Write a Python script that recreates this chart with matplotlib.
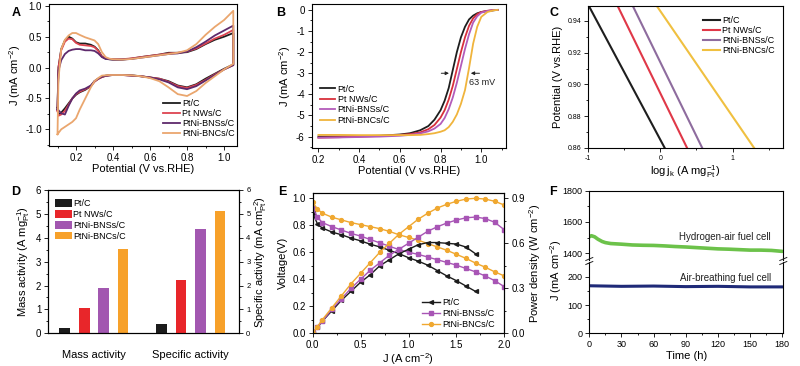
import matplotlib
matplotlib.use("Agg")
import matplotlib.pyplot as plt
from matplotlib.ticker import MultipleLocator
from matplotlib.lines import Line2D

plt.rcParams['font.family'] = ['Liberation Sans', 'DejaVu Sans']
plt.rcParams['mathtext.default'] = 'regular'
plt.rcParams['axes.linewidth'] = 0.8
plt.rcParams['axes.unicode_minus'] = False

# ---------------- DATA ----------------
names4 = ['Pt/C', 'Pt NWs/C', 'PtNi-BNSs/C', 'PtNi-BNCs/C']

# Panel A: CV (anodic sweep up, cathodic sweep down)
cv_E_up = [0.100, 0.105, 0.12, 0.14, 0.16, 0.18, 0.20, 0.22, 0.25, 0.28, 0.30, 0.32, 0.34, 0.36, 0.38,
           0.40, 0.45, 0.50, 0.55, 0.60, 0.65, 0.70, 0.75, 0.80, 0.85, 0.90, 0.95, 1.00, 1.05]
cv_E_dn = cv_E_up[::-1]
cv_pt_up = [-0.65, 0.0, 0.30, 0.44, 0.50, 0.47, 0.41, 0.39, 0.39, 0.37, 0.34, 0.28, 0.18, 0.145, 0.135,
            0.13, 0.13, 0.145, 0.17, 0.19, 0.21, 0.24, 0.24, 0.25, 0.30, 0.38, 0.45, 0.50, 0.56]
cv_pt_dn = [0.05, -0.02, -0.10, -0.18, -0.27, -0.32, -0.29, -0.22, -0.18, -0.16, -0.14, -0.125, -0.12, -0.12,
            -0.125, -0.13, -0.15, -0.18, -0.22, -0.30, -0.36, -0.40, -0.44, -0.50, -0.58, -0.66, -0.73, -0.76, -0.65]
cv_nw_up = [-0.70, 0.0, 0.28, 0.42, 0.47, 0.46, 0.40, 0.37, 0.36, 0.35, 0.33, 0.27, 0.18, 0.15, 0.14,
            0.135, 0.135, 0.15, 0.17, 0.19, 0.21, 0.23, 0.24, 0.26, 0.31, 0.39, 0.47, 0.53, 0.61]
cv_nw_dn = [0.04, -0.03, -0.11, -0.20, -0.28, -0.33, -0.30, -0.23, -0.18, -0.16, -0.14, -0.13, -0.12, -0.12,
            -0.125, -0.135, -0.155, -0.185, -0.23, -0.30, -0.35, -0.39, -0.43, -0.50, -0.60, -0.70, -0.76, -0.78, -0.70]
cv_ns_up = [-0.68, -0.05, 0.12, 0.22, 0.27, 0.29, 0.30, 0.30, 0.28, 0.28, 0.27, 0.23, 0.17, 0.14, 0.135,
            0.13, 0.13, 0.14, 0.16, 0.18, 0.20, 0.22, 0.23, 0.26, 0.33, 0.42, 0.52, 0.60, 0.68]
cv_ns_dn = [0.04, -0.03, -0.12, -0.21, -0.30, -0.35, -0.32, -0.24, -0.19, -0.16, -0.14, -0.13, -0.12, -0.12,
            -0.125, -0.135, -0.15, -0.18, -0.22, -0.29, -0.34, -0.37, -0.42, -0.50, -0.62, -0.76, -0.74, -0.69, -0.68]
cv_nc_up = [-1.08, -0.20, 0.30, 0.45, 0.52, 0.56, 0.56, 0.53, 0.49, 0.46, 0.44, 0.38, 0.25, 0.17, 0.145,
            0.135, 0.13, 0.14, 0.16, 0.18, 0.20, 0.22, 0.24, 0.28, 0.38, 0.53, 0.66, 0.77, 0.92]
cv_nc_dn = [0.06, -0.03, -0.14, -0.25, -0.38, -0.46, -0.43, -0.32, -0.22, -0.17, -0.14, -0.125, -0.12, -0.12,
            -0.12, -0.125, -0.13, -0.17, -0.22, -0.32, -0.50, -0.68, -0.82, -0.88, -0.92, -0.96, -1.00, -1.06, -1.08]

# Panel B: ORR polarisation curves
lsv_E = [0.20, 0.30, 0.40, 0.50, 0.55, 0.60, 0.65, 0.70, 0.74, 0.77, 0.80, 0.82, 0.84, 0.86,
         0.88, 0.90, 0.92, 0.94, 0.96, 0.98, 1.00, 1.03, 1.06, 1.08]
lsv_pt = [-6.0, -6.0, -5.98, -5.96, -5.93, -5.9, -5.84, -5.7, -5.5, -5.2, -4.75, -4.3, -3.7, -2.85,
          -2.0, -1.3, -0.8, -0.45, -0.27, -0.16, -0.1, -0.05, -0.02, 0.0]
lsv_nw = [-6.05, -6.03, -6.0, -5.97, -5.95, -5.92, -5.88, -5.8, -5.65, -5.45, -5.1, -4.75, -4.25, -3.6,
          -2.8, -2.0, -1.3, -0.75, -0.4, -0.2, -0.1, -0.04, -0.01, 0.0]
lsv_ns = [-6.05, -6.04, -6.02, -6.0, -5.98, -5.96, -5.92, -5.85, -5.75, -5.62, -5.4, -5.12, -4.7, -4.15,
          -3.45, -2.65, -1.85, -1.15, -0.6, -0.3, -0.13, -0.05, -0.01, 0.0]
lsv_nc = [-5.92, -5.92, -5.93, -5.93, -5.93, -5.93, -5.93, -5.92, -5.88, -5.84, -5.77, -5.7, -5.55, -5.3,
          -4.95, -4.45, -3.8, -2.75, -1.6, -0.8, -0.33, -0.1, -0.02, 0.0]

# Panel C: Tafel-type lines (log jk at 0.95 V and 0.86 V)
tafel_V = [0.95, 0.86]
tafel_pt = [-1.0, 0.06]
tafel_nw = [-0.60, 0.37]
tafel_ns = [-0.39, 0.58]
tafel_nc = [-0.06, 1.30]

# Panel D: activities
groups = ['Mass activity', 'Specific activity']
mass_act = [0.24, 1.04, 1.91, 3.54]
spec_act = [0.39, 2.23, 4.35, 5.14]

# Panel E: fuel cell polarisation / power
fc_J_pt = [0, 0.05, 0.1, 0.2, 0.3, 0.4, 0.5, 0.6, 0.7, 0.8, 0.9, 1.0, 1.1, 1.2, 1.3, 1.4, 1.5, 1.6, 1.7]
fc_V_pt = [0.89, 0.81, 0.78, 0.75, 0.73, 0.705, 0.685, 0.66, 0.64, 0.615, 0.59, 0.56, 0.535, 0.505,
           0.465, 0.425, 0.39, 0.35, 0.31]
fc_P_pt = [0, 0.04, 0.08, 0.15, 0.22, 0.28, 0.34, 0.39, 0.45, 0.49, 0.53, 0.56, 0.59, 0.605,
           0.605, 0.60, 0.595, 0.575, 0.53]
fc_J_ni = [0, 0.05, 0.1, 0.2, 0.3, 0.4, 0.5, 0.6, 0.7, 0.8, 0.9, 1.0, 1.1, 1.2, 1.3, 1.4, 1.5, 1.6,
           1.7, 1.8, 1.9, 2.0]
fc_V_ns = [0.93, 0.86, 0.82, 0.79, 0.765, 0.74, 0.72, 0.695, 0.67, 0.645, 0.62, 0.60, 0.585, 0.565,
           0.545, 0.525, 0.505, 0.48, 0.455, 0.425, 0.39, 0.345]
fc_P_ns = [0, 0.045, 0.08, 0.16, 0.23, 0.30, 0.36, 0.42, 0.47, 0.52, 0.56, 0.60, 0.64, 0.68,
           0.71, 0.735, 0.755, 0.77, 0.775, 0.765, 0.74, 0.69]
fc_V_nc = [0.97, 0.92, 0.89, 0.86, 0.84, 0.82, 0.805, 0.79, 0.775, 0.755, 0.73, 0.71, 0.69, 0.665,
           0.64, 0.615, 0.585, 0.555, 0.52, 0.49, 0.455, 0.425]
fc_P_nc = [0, 0.045, 0.09, 0.17, 0.25, 0.33, 0.40, 0.47, 0.54, 0.60, 0.66, 0.71, 0.76, 0.80,
           0.835, 0.86, 0.88, 0.895, 0.90, 0.895, 0.88, 0.855]
fc_names = ['Pt/C', 'PtNi-BNSs/C', 'PtNi-BNCs/C']

# Panel F: stability
h2_t = [0, 2, 5, 8, 12, 15, 20, 30, 40, 50, 60, 70, 80, 90, 100, 110, 120, 130, 140, 150, 160, 170, 180]
h2_J = [1505, 1512, 1505, 1490, 1475, 1468, 1462, 1458, 1453, 1451, 1450, 1447, 1443, 1440, 1436,
        1432, 1428, 1426, 1423, 1420, 1420, 1418, 1412]
air_t = [0, 30, 60, 90, 120, 150, 180]
air_J = [168, 166, 167, 165, 166, 164, 164]

# ---------------- STYLE ----------------
W, H = 800, 366
fig = plt.figure(figsize=(W / 100, H / 100), dpi=100)


def px_axes(l, t, r, b):
    return fig.add_axes([l / W, 1 - b / H, (r - l) / W, (b - t) / H])


def style(ax, size=7):
    ax.tick_params(which='both', direction='out', width=0.6, labelsize=size, pad=2)
    ax.tick_params(which='major', length=3)
    ax.tick_params(which='minor', length=1.6)


FS_LAB = 8
FS_LEG = 6.5

# ---------------- A ----------------
axA = px_axes(49, 4, 237, 146)
colA = ['#1e1e1e', '#dd4450', '#5e2a6c', '#eaa66e']
cvs = [(cv_pt_up, cv_pt_dn), (cv_nw_up, cv_nw_dn), (cv_ns_up, cv_ns_dn), (cv_nc_up, cv_nc_dn)]
for (up, dn), c, n in zip(cvs, colA, names4):
    axA.plot(cv_E_up + cv_E_dn, up + dn, color=c, lw=1.3, label=n)
axA.set_xlim(0.054, 1.07)
axA.set_ylim(-1.27, 1.03)
axA.xaxis.set_major_locator(MultipleLocator(0.2))
axA.xaxis.set_minor_locator(MultipleLocator(0.1))
axA.yaxis.set_major_locator(MultipleLocator(0.5))
axA.yaxis.set_minor_locator(MultipleLocator(0.25))
axA.yaxis.set_major_formatter(matplotlib.ticker.FormatStrFormatter('%.1f'))
style(axA)
axA.set_xlabel('Potential (V vs.RHE)', fontsize=FS_LAB, labelpad=1)
axA.set_ylabel('J (mA cm$^{-2}$)', fontsize=FS_LAB, labelpad=2)
axA.legend(loc='upper left', bbox_to_anchor=(0.605, 0.33), frameon=False, fontsize=FS_LEG,
           borderpad=0, borderaxespad=0, handlelength=1.9, handletextpad=0.25, labelspacing=0.1)

# ---------------- B ----------------
axB = px_axes(311.7, 4, 505.7, 148)
colB = ['#1e1e1e', '#d8303c', '#b35cba', '#f0b43c']
for y, c, n in zip([lsv_pt, lsv_nw, lsv_ns, lsv_nc], colB, names4):
    axB.plot(lsv_E, y, color=c, lw=1.3, label=n)
axB.set_xlim(0.167, 1.12)
axB.set_ylim(-6.54, 0.28)
axB.xaxis.set_major_locator(MultipleLocator(0.2))
axB.xaxis.set_minor_locator(MultipleLocator(0.1))
axB.yaxis.set_major_locator(MultipleLocator(1))
axB.yaxis.set_minor_locator(MultipleLocator(0.5))
style(axB)
axB.set_xlabel('Potential (V vs.RHE)', fontsize=FS_LAB, labelpad=1)
axB.set_ylabel('J (mA cm$^{-2}$)', fontsize=FS_LAB, labelpad=2)
axB.legend(loc='upper left', bbox_to_anchor=(0.043, 0.44), frameon=False, fontsize=FS_LEG,
           borderpad=0, borderaxespad=0, handlelength=1.7, handletextpad=0.25, labelspacing=0.15)
axB.annotate('', xy=(0.855, -3.0), xytext=(0.79, -3.0),
             arrowprops=dict(arrowstyle='-|>', color='#222222', lw=0.7, mutation_scale=5))
axB.annotate('', xy=(0.935, -3.0), xytext=(1.005, -3.0),
             arrowprops=dict(arrowstyle='-|>', color='#222222', lw=0.7, mutation_scale=5))
axB.text(0.94, -3.42, '63 mV', fontsize=FS_LEG, va='center', ha='left', color='#222222')

# ---------------- C ----------------
axC = px_axes(588.3, 5.7, 783, 148)
colC = ['#1e1e1e', '#e03848', '#8e6c9e', '#f0c040']
for x, c, n in zip([tafel_pt, tafel_nw, tafel_ns, tafel_nc], colC, names4):
    axC.plot(x, tafel_V, color=c, lw=1.5, label=n)
axC.set_xlim(-1.0, 1.7)
axC.set_ylim(0.86, 0.9495)
axC.xaxis.set_major_locator(MultipleLocator(1))
axC.xaxis.set_minor_locator(MultipleLocator(0.5))
axC.yaxis.set_major_locator(MultipleLocator(0.02))
axC.yaxis.set_minor_locator(MultipleLocator(0.01))
style(axC, 5)
axC.set_xlabel('log$\\,$j$_{k}$ (A mg$_{Pt}^{-1}$)', fontsize=FS_LAB, labelpad=1)
axC.set_ylabel('Potential (V vs.RHE)', fontsize=FS_LAB, labelpad=3)
axC.legend(loc='upper left', bbox_to_anchor=(0.589, 0.925), frameon=False, fontsize=FS_LEG,
           borderpad=0, borderaxespad=0, handlelength=1.9, handletextpad=0.25, labelspacing=0.1)

# ---------------- D ----------------
axD = px_axes(48.3, 190, 239.3, 333.3)
axD2 = axD.twinx()
colD = ['#1c1c1c', '#e8262a', '#a257b0', '#f7a12a']
offs = [-0.3, -0.1, 0.1, 0.3]
bw = 0.11
for i, (c, n) in enumerate(zip(colD, names4)):
    axD.bar(0 + offs[i], mass_act[i], width=bw, color=c, label=n)
    axD2.bar(1 + offs[i], spec_act[i], width=bw, color=c)
axD.set_xlim(-0.47, 1.5)
for a in (axD, axD2):
    a.set_ylim(0, 6)
    a.yaxis.set_major_locator(MultipleLocator(1))
    a.yaxis.set_minor_locator(MultipleLocator(0.5))
style(axD)
style(axD2, 5.5)
axD.set_xticks([0, 1])
axD.set_xticklabels(groups, fontsize=8)
axD.tick_params(axis='x', length=0, pad=12)
axD.set_ylabel('Mass activity (A mg$_{Pt}^{-1}$)', fontsize=FS_LAB, labelpad=3)
axD2.set_ylabel('Specific activity (mA cm$_{Pt}^{-2}$)', fontsize=FS_LAB, labelpad=1)
axD.legend(loc='upper left', bbox_to_anchor=(0.035, 0.935), frameon=False, fontsize=FS_LEG,
           borderpad=0, borderaxespad=0, handlelength=1.85, handleheight=0.9,
           handletextpad=0.15, labelspacing=0.2)

# ---------------- E ----------------
axE = px_axes(312.7, 193.3, 504.3, 333.3)
axE2 = axE.twinx()
colE = ['#1c1c1c', '#a855b5', '#f0a830']
mk = ['<', 's', 'o']
seriesE = [(fc_J_pt, fc_V_pt, fc_P_pt), (fc_J_ni, fc_V_ns, fc_P_ns), (fc_J_ni, fc_V_nc, fc_P_nc)]
for (j, v, p), c, m, n in zip(seriesE, colE, mk, fc_names):
    axE.plot(j, v, color=c, lw=1.0, marker=m, ms=2.8, label=n)
    axE2.plot(j, p, color=c, lw=1.0, marker=m, ms=2.8)
axE.set_xlim(0, 2.0)
axE.set_ylim(0, 1.037)
axE2.set_ylim(0, 0.9333)
axE.xaxis.set_major_locator(MultipleLocator(0.5))
axE.xaxis.set_minor_locator(MultipleLocator(0.25))
axE.yaxis.set_major_locator(MultipleLocator(0.2))
axE.yaxis.set_minor_locator(MultipleLocator(0.1))
axE2.yaxis.set_major_locator(MultipleLocator(0.3))
axE2.yaxis.set_minor_locator(MultipleLocator(0.15))
axE.yaxis.set_major_formatter(matplotlib.ticker.FormatStrFormatter('%.1f'))
axE.xaxis.set_major_formatter(matplotlib.ticker.FormatStrFormatter('%.1f'))
axE2.yaxis.set_major_formatter(matplotlib.ticker.FormatStrFormatter('%.1f'))
style(axE)
style(axE2)
axE.set_xlabel('J (A cm$^{-2}$)', fontsize=FS_LAB, labelpad=1)
axE.set_ylabel('Voltage(V)', fontsize=FS_LAB, labelpad=3)
axE2.set_ylabel('Power density (W cm$^{-2}$)', fontsize=FS_LAB, labelpad=2)
axE.legend(loc='lower left', bbox_to_anchor=(0.569, 0.03), frameon=False, fontsize=FS_LEG,
           borderpad=0, borderaxespad=0, handlelength=2.0, handletextpad=0.25, labelspacing=0.2)

# ---------------- F ----------------
axFu = px_axes(589.3, 190.7, 783.3, 259.5)
axFl = px_axes(589.3, 262, 783.3, 333.3)
axFu.plot(h2_t, h2_J, color='#6cc24a', lw=2.6, solid_capstyle='round')
axFl.plot(air_t, air_J, color='#1f2a78', lw=2.2)
for a in (axFu, axFl):
    a.set_xlim(0, 181)
    a.xaxis.set_major_locator(MultipleLocator(30))
    a.xaxis.set_minor_locator(MultipleLocator(15))
    style(a, 6.5)
axFu.set_ylim(1360, 1800)
axFu.yaxis.set_major_locator(MultipleLocator(200))
axFu.yaxis.set_minor_locator(MultipleLocator(100))
axFl.set_ylim(0, 252)
axFl.yaxis.set_major_locator(MultipleLocator(100))
axFl.yaxis.set_minor_locator(MultipleLocator(50))
axFu.spines['bottom'].set_visible(False)
axFl.spines['top'].set_visible(False)
axFu.tick_params(axis='x', which='both', bottom=False, labelbottom=False)
axFl.set_xlabel('Time (h)', fontsize=FS_LAB, labelpad=1)
fig.text(556 / W, 1 - 270 / H, 'J (mA cm$^{-2}$)', fontsize=FS_LAB, rotation=90, ha='center', va='center')
axFu.text(84, 1506, 'Hydrogen-air fuel cell', fontsize=7, ha='left', va='center', color='#222222')
axFl.text(85, 196, 'Air-breathing fuel cell', fontsize=7, ha='left', va='center', color='#222222')
for xs in (589.3, 783.3):
    for yy in (259.0, 263.0):
        fig.add_artist(Line2D([(xs - 3.5) / W, (xs + 3.5) / W],
                              [1 - (yy + 1.5) / H, 1 - (yy - 1.5) / H],
                              color='#222222', lw=0.7))

# ---------------- panel letters ----------------
for lab, x, y in [('A', 12, 13), ('B', 276, 13), ('C', 549, 13),
                  ('D', 11, 192), ('E', 278, 192), ('F', 549, 192)]:
    fig.text(x / W, 1 - y / H, lab, fontsize=9, fontweight='bold', ha='left', va='center')

fig.savefig('out.png', dpi=100)
